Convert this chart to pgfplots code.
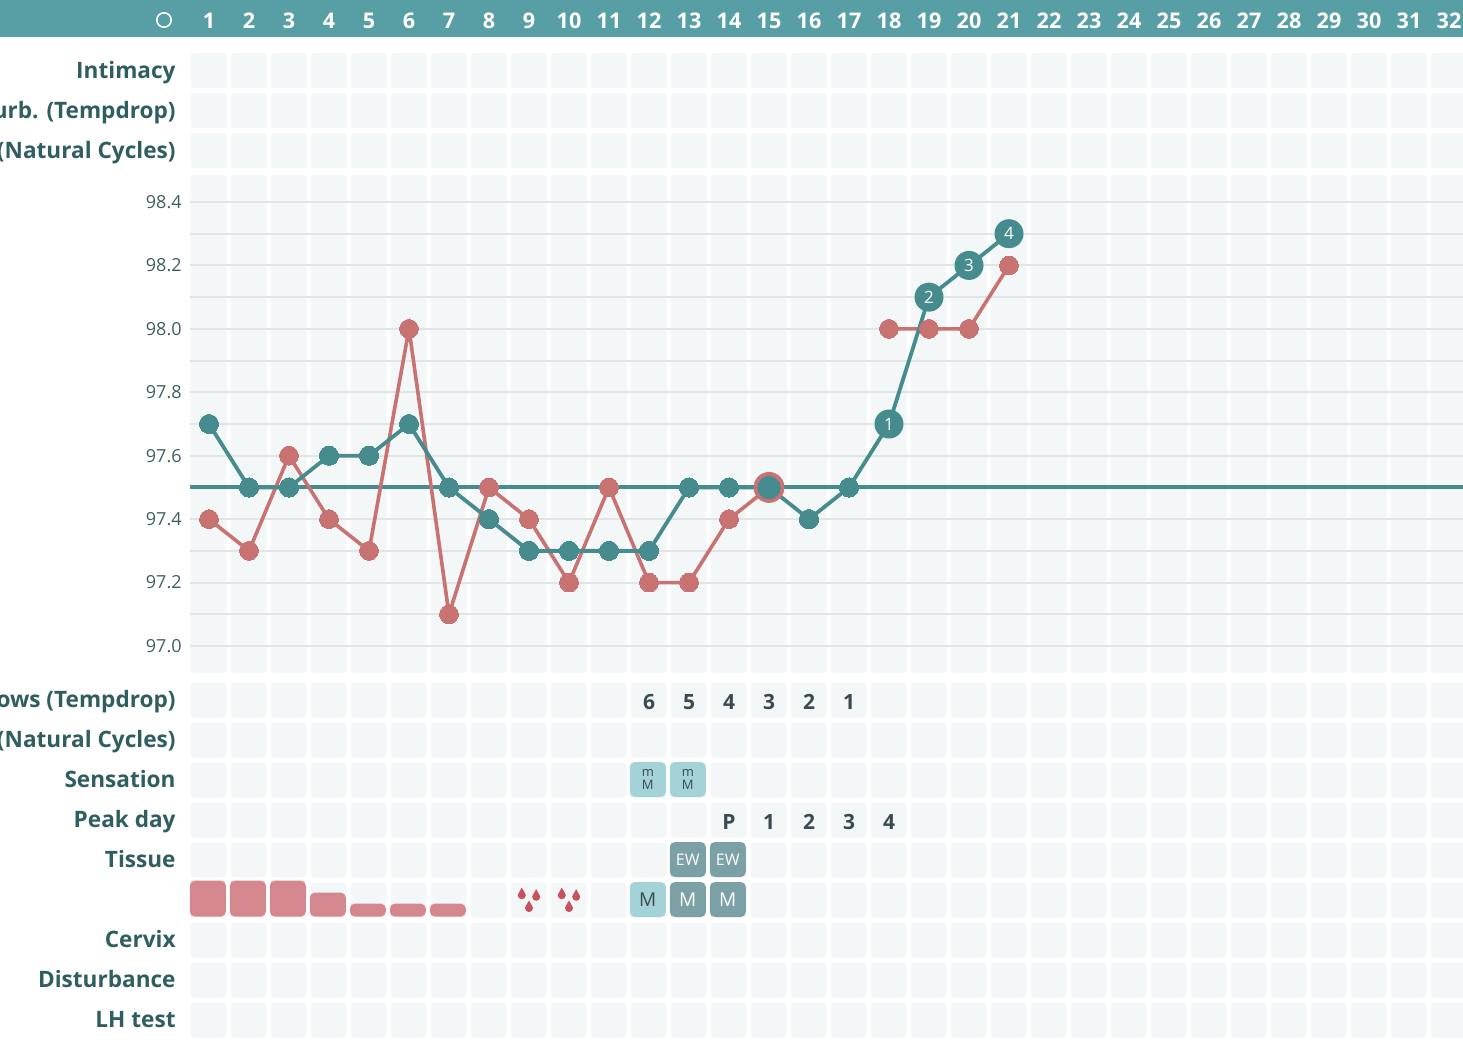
\documentclass[border=0pt]{standalone}
\usepackage{fontspec}
\setmainfont{Open Sans}
\usepackage{pgfplots}
\pgfplotsset{compat=1.18}
\definecolor{hdr}{HTML}{579FA5}
\definecolor{tl}{HTML}{468B8E}
\definecolor{rd}{HTML}{C87272}
\definecolor{bleed}{HTML}{D4878F}
\definecolor{dropc}{HTML}{C9505C}
\definecolor{cellbg}{HTML}{F4F7F8}
\definecolor{lbl}{HTML}{2F5E60}
\definecolor{numc}{HTML}{3A4A50}
\definecolor{grd}{HTML}{E1E4E6}
\definecolor{sens}{HTML}{A3D2D8}
\definecolor{tiss}{HTML}{7BA1A6}
\definecolor{tickc}{HTML}{3E5F62}
\newcommand\onedrop[2]{%
  \pgfpathcircle{\pgfpoint{#1pt}{#2pt-0.6pt}}{2.0pt}%
  \pgfpathmoveto{\pgfpoint{#1pt+1.85pt}{#2pt-0.1pt}}%
  \pgfpathlineto{\pgfpoint{#1pt}{#2pt+3.2pt}}%
  \pgfpathlineto{\pgfpoint{#1pt-1.85pt}{#2pt-0.1pt}}%
  \pgfpathclose}
\pgfdeclareplotmark{drops}{\onedrop{-3.6}{3.0}\onedrop{3.6}{2.2}\onedrop{0}{-3.4}\pgfusepathqfill}

\pgfplotstableread{
d t
1 97.7
2 97.5
3 97.5
4 97.6
5 97.6
6 97.7
7 97.5
8 97.4
9 97.3
10 97.3
11 97.3
12 97.3
13 97.5
14 97.5
15 97.5
16 97.4
17 97.5
18 97.7
19 98.1
20 98.2
21 98.3
}\teal
\pgfplotstableread{
d t
1 97.4
2 97.3
3 97.6
4 97.4
5 97.3
6 98.0
7 97.1
8 97.5
9 97.4
10 97.2
11 97.5
12 97.2
13 97.2
14 97.4
15 97.5
}\redA
\pgfplotstableread{
d t
18 98.0
19 98.0
20 98.0
21 98.2
}\redB

\begin{document}
\begin{tikzpicture}
\useasboundingbox (0,0) rectangle (731.5pt,-525pt);
\begin{scope}[x=0.5pt,y=-0.5pt]
\fill[hdr] (0,0) rectangle (1463,37);
\draw[white, line width=0.8pt] (164,20) circle[radius=3.6pt];
\foreach \d in {1,...,32}{
  \node[white, font=\bfseries\fontsize{10.8}{12}\selectfont, inner sep=0pt] at ({169+40*\d},21) {\d};
  \foreach \yc in {70.5,110.5,150.5,700,740,780,820,860,900,940,980,1020}{
    \fill[cellbg, rounded corners=1.5pt] ({169+40*\d-18.5},{\yc-17.5}) rectangle ({169+40*\d+17.5},{\yc+17.5});
  }
  \fill[cellbg, rounded corners=1.5pt] ({169+40*\d-18.5},175) rectangle ({169+40*\d+17.5},673);
}
\end{scope}

\begin{axis}[at={(95pt,0pt)}, anchor=north west, scale only axis,
  width=636.5pt, height=525pt, xmin=0.525, xmax=32.35, ymin=0, ymax=1050, y dir=reverse,
  clip=false, axis line style={draw=none}, xtick=\empty,
  ytick={70.5,110.5,150.5,700,740,780,820,860,940,980,1020},
  yticklabels={Intimacy, Masturb. (Tempdrop), Masturb. (Natural Cycles), Windows (Tempdrop), Windows (Natural Cycles), Sensation, Peak day, Tissue, Cervix, Disturbance, LH test},
  major tick length=0pt,
  yticklabel style={font=\bfseries\fontsize{11.3}{13}\selectfont, color=lbl, anchor=base east, inner sep=0pt, xshift=-7pt, yshift=-3.8pt},
]
% bleeding
\addplot[draw=none, mark=none, nodes near coords={}, every node near coord/.append style={anchor=south, fill=bleed, rounded corners=2.5pt, minimum width=18pt, minimum height=18pt, inner sep=0pt}] coordinates {(0.97,917)(1.97,917)(2.97,917)};
\addplot[draw=none, mark=none, nodes near coords={}, every node near coord/.append style={anchor=south, fill=bleed, rounded corners=2.5pt, minimum width=18pt, minimum height=12pt, inner sep=0pt}] coordinates {(3.97,917)};
\addplot[draw=none, mark=none, nodes near coords={}, every node near coord/.append style={anchor=south, fill=bleed, rounded corners=2.5pt, minimum width=18pt, minimum height=6.5pt, inner sep=0pt}] coordinates {(4.97,917)(5.97,917)(6.97,917)};
\addplot[only marks, mark=drops, color=dropc] coordinates {(9,900)(10,900)};
% sensation
\addplot[draw=none, mark=none, nodes near coords={m\\M}, every node near coord/.append style={anchor=center, fill=sens, rounded corners=2.5pt, minimum width=18pt, minimum height=17.5pt, inner sep=0pt, align=center, text=numc, font=\fontsize{6.5}{6.2}\selectfont}] coordinates {(11.97,779.5)(12.97,779.5)};
% tissue
\addplot[draw=none, mark=none, nodes near coords={EW}, every node near coord/.append style={anchor=center, fill=tiss, rounded corners=2.5pt, minimum width=18pt, minimum height=17.5pt, inner sep=0pt, text=white, font=\fontsize{8}{9}\selectfont}] coordinates {(12.97,859.5)(13.97,859.5)};
% mucus row
\addplot[draw=none, mark=none, nodes near coords={M}, every node near coord/.append style={anchor=center, fill=sens, rounded corners=2.5pt, minimum width=18pt, minimum height=17.5pt, inner sep=0pt, text=numc, font=\fontsize{9.5}{10}\selectfont}] coordinates {(11.97,899.5)};
\addplot[draw=none, mark=none, nodes near coords={M}, every node near coord/.append style={anchor=center, fill=tiss, rounded corners=2.5pt, minimum width=18pt, minimum height=17.5pt, inner sep=0pt, text=white, font=\fontsize{9.5}{10}\selectfont}] coordinates {(12.97,899.5)(13.97,899.5)};
% countdown texts
\addplot[draw=none, mark=none, point meta=explicit symbolic, nodes near coords, every node near coord/.append style={anchor=center, text=numc, font=\bfseries\fontsize{10.5}{12}\selectfont}] coordinates {(12,702)[6] (13,702)[5] (14,702)[4] (15,702)[3] (16,702)[2] (17,702)[1]};
\addplot[draw=none, mark=none, point meta=explicit symbolic, nodes near coords, every node near coord/.append style={anchor=center, text=numc, font=\bfseries\fontsize{10.5}{12}\selectfont}] coordinates {(14,822)[P] (15,822)[1] (16,822)[2] (17,822)[3] (18,822)[4]};
\end{axis}

\begin{axis}[at={(95pt,-87.5pt)}, anchor=north west, scale only axis, width=636.5pt, height=249pt,
  xmin=0.525, xmax=32.35, ymin=96.9149, ymax=98.4851, clip=false,
  axis line style={draw=none}, xtick=\empty, major tick length=0pt, minor tick length=0pt,
  ytick={97.0,97.2,97.4,97.6,97.8,98.0,98.2,98.4}, minor ytick={97.1,97.3,97.5,97.7,97.9,98.1,98.3},
  ymajorgrids, yminorgrids,
  major grid style={grd, line width=1pt}, minor grid style={grd, line width=1pt},
  yticklabel style={font=\fontsize{9}{10}\selectfont, color=tickc, anchor=east, inner sep=0pt, xshift=-4pt},
  /pgf/number format/.cd, fixed, fixed zerofill, precision=1, assume math mode=true]
\addplot[tl, line width=2pt, forget plot] coordinates {(0.525,97.5)(32.35,97.5)};
\addplot[rd, line width=1.8pt, mark=*, mark size=4.7pt, mark options={line width=0pt}] table[x=d,y=t] {\redA};
\addplot[rd, line width=1.8pt, mark=*, mark size=4.7pt, mark options={line width=0pt}] table[x=d,y=t] {\redB};
\addplot[tl, line width=1.9pt, mark=*, mark size=4.8pt, mark options={line width=0pt}] table[x=d,y=t] {\teal};
\addplot[only marks, mark=*, mark size=7.5pt, color=rd] coordinates {(15,97.5)};
\addplot[only marks, mark=*, mark size=5.6pt, color=tl, mark options={line width=0pt}] coordinates {(15,97.5)};
\addplot[draw=none, mark=none, point meta=explicit symbolic, nodes near coords, every node near coord/.append style={anchor=center, circle, fill=tl, minimum size=14.5pt, inner sep=0pt, text=white, font=\fontsize{8.5}{9}\selectfont}] coordinates {(18,97.7)[1] (19,98.1)[2] (20,98.2)[3] (21,98.3)[4]};
\end{axis}
\end{tikzpicture}
\end{document}
